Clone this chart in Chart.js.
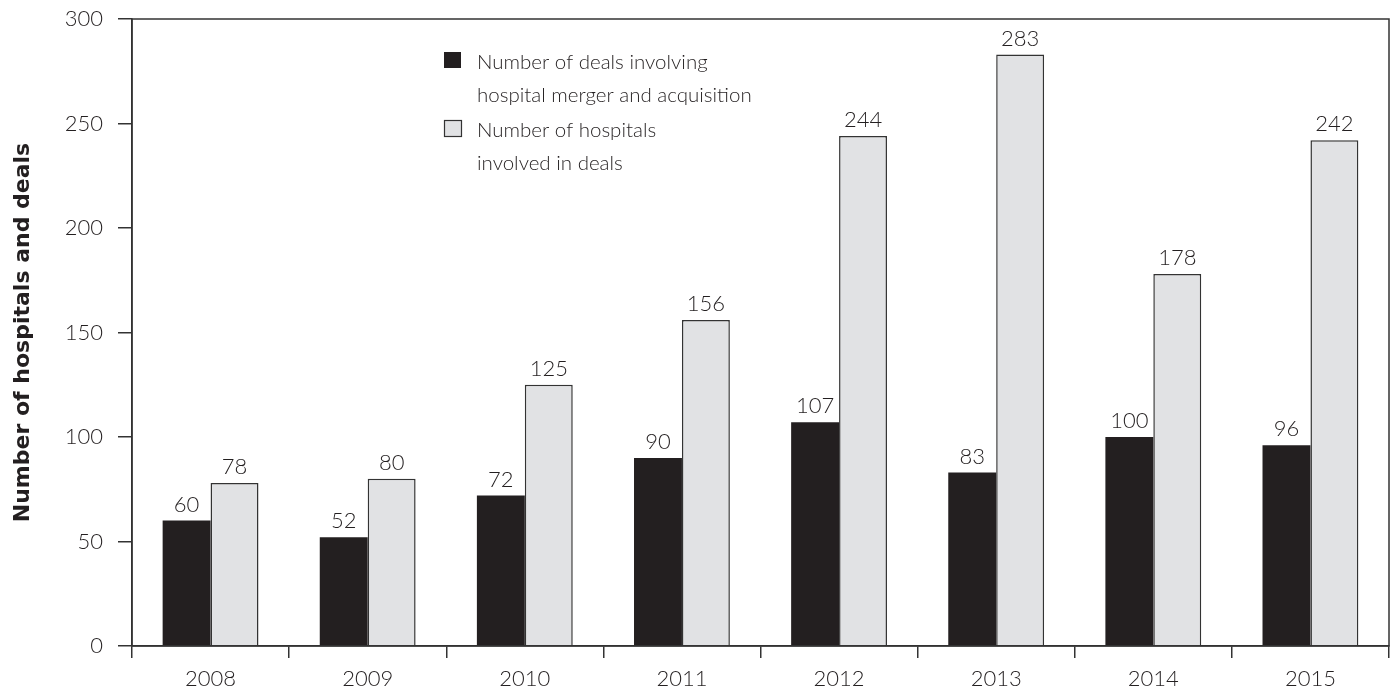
<!DOCTYPE html>
<html>
<head>
<meta charset="utf-8">
<script src="https://cdn.jsdelivr.net/npm/chart.js@4"></script>
<style>
  html, body { margin: 0; padding: 0; background: #fff; }
  #wrap { width: 1395px; height: 694px; }
</style>
</head>
<body>
<div id="wrap"><canvas id="myChart"></canvas></div>
<script>
// chart values
const years = ["2008", "2009", "2010", "2011", "2012", "2013", "2014", "2015"];
const deals = [60, 52, 72, 90, 107, 83, 100, 96];
const hospitals = [78, 80, 125, 156, 244, 283, 178, 242];
const legendLines = [
  ["Number of deals involving", "hospital merger and acquisition"],
  ["Number of hospitals", "involved in deals"]
];
const yTitle = "Number of hospitals and deals";

const ink = "#231f20";
const lineCol = "#333333";
const lightFont = { family: "Lato", weight: 300, size: 22 };

// numbers above every bar
const barLabels = {
  id: "barLabels",
  afterDatasetsDraw(chart) {
    const ctx = chart.ctx;
    ctx.save();
    ctx.font = "300 22px Lato";
    ctx.fillStyle = ink;
    ctx.textAlign = "center";
    ctx.textBaseline = "alphabetic";
    chart.data.datasets.forEach((ds, i) => {
      chart.getDatasetMeta(i).data.forEach((bar, j) => {
        ctx.fillText(ds.data[j], bar.x, bar.y - 9);
      });
    });
    ctx.restore();
  }
};

// box round the plot area
const frame = {
  id: "frame",
  afterDraw(chart) {
    const a = chart.chartArea;
    const ctx = chart.ctx;
    ctx.save();
    ctx.strokeStyle = lineCol;
    ctx.lineWidth = 1.5;
    ctx.strokeRect(a.left, a.top, a.right - a.left, a.bottom - a.top);
    ctx.restore();
  }
};

// legend with two-line labels
const twoLineLegend = {
  id: "twoLineLegend",
  afterDraw(chart) {
    const ctx = chart.ctx;
    ctx.save();
    ctx.font = "300 20.5px Lato";
    ctx.textBaseline = "alphabetic";
    ctx.textAlign = "left";
    chart.data.datasets.forEach((ds, i) => {
      const top = 52 + i * 68;
      ctx.fillStyle = ds.backgroundColor;
      ctx.fillRect(444, top, 17, 16);
      if (ds.borderWidth) {
        ctx.strokeStyle = ds.borderColor;
        ctx.lineWidth = 1.2;
        ctx.strokeRect(444.5, top + 0.5, 17, 16);
      }
      ctx.fillStyle = ink;
      legendLines[i].forEach((t, k) => {
        ctx.fillText(t, 477, top + 17 + k * 33);
      });
    });
    ctx.restore();
  }
};

new Chart(document.getElementById("myChart"), {
  type: "bar",
  data: {
    labels: years,
    datasets: [{
      label: legendLines[0].join(" "),
      data: deals,
      backgroundColor: ink,
      borderWidth: 0
    }, {
      label: legendLines[1].join(" "),
      data: hospitals,
      backgroundColor: "#e1e2e4",
      borderColor: lineCol,
      borderWidth: 1.5
    }]
  },
  options: {
    responsive: true,
    maintainAspectRatio: false,
    animation: false,
    categoryPercentage: 0.61,
    barPercentage: 1,
    layout: { padding: { top: 19, right: 6, left: 0, bottom: 0 } },
    plugins: {
      legend: { display: false },
      tooltip: { enabled: false }
    },
    scales: {
      x: {
        afterFit: (s) => { s.height = 48; s.paddingLeft = 0; s.paddingRight = 0; },
        grid: {
          offset: true,
          drawOnChartArea: false,
          tickLength: 12,
          color: lineCol,
          lineWidth: 1.5
        },
        border: { color: lineCol, width: 1.5 },
        ticks: { color: ink, font: lightFont, padding: 8 }
      },
      y: {
        min: 0,
        max: 300,
        afterFit: (s) => { s.width = 132; s.paddingTop = 0; s.paddingBottom = 0; },
        grid: {
          drawOnChartArea: false,
          tickLength: 14,
          color: lineCol,
          lineWidth: 1.5
        },
        border: { color: lineCol, width: 1.5 },
        ticks: { stepSize: 50, color: ink, font: lightFont, padding: 15 },
        title: {
          display: true,
          text: yTitle,
          color: ink,
          font: { family: "DejaVu Sans", weight: "bold", size: 22 },
          padding: { top: 10, bottom: 0 }
        }
      }
    }
  },
  plugins: [barLabels, frame, twoLineLegend]
});
</script>
</body>
</html>
